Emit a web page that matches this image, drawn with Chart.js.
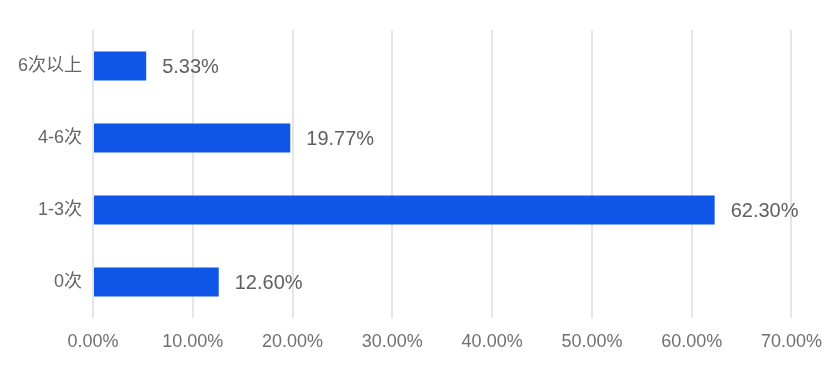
<!DOCTYPE html>
<html>
<head>
<meta charset="utf-8">
<script src="https://cdn.jsdelivr.net/npm/chart.js@4/dist/chart.umd.min.js"></script>
<style>
html,body{margin:0;padding:0;background:#fff;}
#wrap{width:835px;height:369px;}
</style>
</head>
<body>
<div id="wrap"><canvas id="c"></canvas></div>
<script>
const categories = ["6次以上", "4-6次", "1-3次", "0次"];
const values = [5.33, 19.77, 62.30, 12.60];
const xTickMax = 70;
const xTickStep = 10;

const FONT = "'Liberation Sans', Arial, 'Noto Sans CJK SC', sans-serif";

const valueLabels = {
  id: 'valueLabels',
  afterDatasetsDraw(chart) {
    const ctx = chart.ctx;
    const meta = chart.getDatasetMeta(0);
    ctx.save();
    ctx.font = "20px " + FONT;
    ctx.fillStyle = "#606060";
    ctx.textAlign = "left";
    ctx.textBaseline = "middle";
    meta.data.forEach((bar, i) => {
      ctx.fillText(values[i].toFixed(2) + "%", bar.x + 16, bar.y + 1);
    });
    ctx.restore();
  }
};

new Chart(document.getElementById('c'), {
  type: 'bar',
  data: {
    labels: categories,
    datasets: [{
      data: values,
      backgroundColor: '#0F56E8',
      borderWidth: 0,
      barPercentage: 0.8,
      categoryPercentage: 0.5
    }]
  },
  options: {
    indexAxis: 'y',
    responsive: true,
    maintainAspectRatio: false,
    animation: false,
    layout: { padding: { top: 30, right: 42, left: 0, bottom: 0 } },
    plugins: { legend: { display: false }, tooltip: { enabled: false } },
    scales: {
      x: {
        min: 0,
        max: xTickMax,
        ticks: {
          stepSize: xTickStep,
          color: '#707070',
          font: { size: 18, family: FONT },
          padding: 13,
          callback: v => v.toFixed(2) + '%'
        },
        grid: { color: '#e6e6e6', lineWidth: 2, drawTicks: false },
        border: { display: false },
        afterFit(scale) { scale.height = 51; }
      },
      y: {
        ticks: {
          color: '#666666',
          font: { size: 18, family: FONT },
          padding: 11
        },
        grid: { display: false, drawTicks: false },
        border: { display: false },
        afterFit(scale) { scale.width = 93; }
      }
    }
  },
  plugins: [valueLabels]
});
</script>
</body>
</html>
